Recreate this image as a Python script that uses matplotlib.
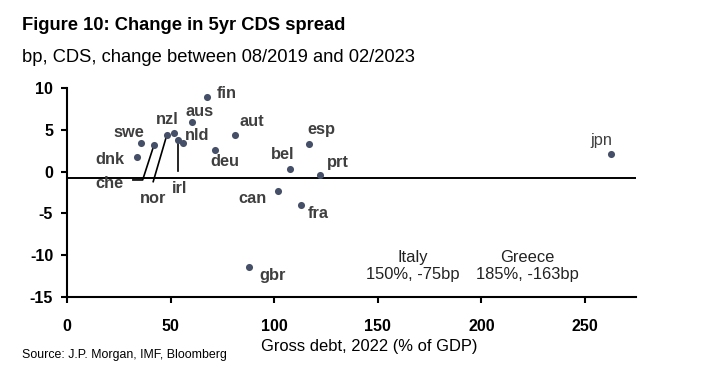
import matplotlib
matplotlib.use("Agg")
import matplotlib.pyplot as plt

plt.rcParams['font.family'] = ['Liberation Sans', 'DejaVu Sans']
plt.rcParams['axes.unicode_minus'] = False

# gross debt 2022 (% of GDP) and 5yr CDS change (bp)
countries = ['fin', 'aus', 'nzl', 'nor', 'irl', 'nld', 'che', 'swe', 'dnk', 'deu',
             'aut', 'esp', 'bel', 'prt', 'can', 'fra', 'gbr', 'jpn']
debt = [67.5, 60.4, 51.7, 48.2, 53.8, 55.9, 42.0, 35.6, 34.0, 71.2,
        81.0, 116.6, 107.7, 121.9, 102.0, 112.9, 88.0, 262.6]
cds_change = [8.9, 5.9, 4.6, 4.4, 3.8, 3.4, 3.2, 3.4, 1.7, 2.6,
              4.4, 3.3, 0.3, -0.4, -2.3, -4.0, -11.4, 2.1]

# label placement (data coords)
label_pos = {
    'fin': (76.9, 9.4), 'aus': (63.9, 7.2), 'nzl': (48.4, 6.2), 'nld': (62.6, 4.3),
    'swe': (29.6, 4.7), 'dnk': (20.8, 1.4), 'che': (20.4, -1.4), 'nor': (41.4, -3.2),
    'irl': (54.2, -2.0), 'deu': (76.3, 1.2), 'aut': (89.1, 6.0), 'esp': (122.9, 5.0),
    'bel': (104.1, 2.0), 'prt': (130.9, 1.1), 'can': (89.6, -3.2), 'fra': (121.1, -5.0),
    'gbr': (99.3, -12.4), 'jpn': (258.1, 3.7),
}
# leader lines for crowded labels
leaders = {
    'che': ([42.0, 36.5, 31.8], [3.2, -1.0, -1.0]),
    'nor': ([48.2, 41.6], [4.4, -1.2]),
    'irl': ([53.8, 53.8], [3.8, 0.1]),
}

outliers = ['Italy\n150%, -75bp', 'Greece\n185%, -163bp']
outlier_pos = [(167, -11.3), (222, -11.3)]

fig = plt.figure(figsize=(7.04, 3.86), dpi=100)
ax = fig.add_axes([0.0952, 0.2306, 0.8078, 0.5414])

marker_color = '#454f68'
label_color = '#3f3f3f'

ax.scatter(debt, cds_change, s=26, color=marker_color, zorder=3, linewidths=0)
ax.axhline(-0.75, color='black', lw=1.4, zorder=2)

for name, (lx, ly) in label_pos.items():
    weight = 'normal' if name == 'jpn' else 'bold'
    ax.text(lx, ly, name, ha='center', va='center', fontsize=11.8,
            fontweight=weight, color=label_color)

for name, (xs, ys) in leaders.items():
    ax.plot(xs, ys, color='black', lw=1.2, zorder=2)

for txt, (ox, oy) in zip(outliers, outlier_pos):
    ax.text(ox, oy, txt, ha='center', va='center', fontsize=11.9,
            color='#222222', linespacing=1.2)

ax.set_xlim(0, 274.5)
ax.set_ylim(-15, 10)
ax.set_xticks([0, 50, 100, 150, 200, 250])
ax.set_yticks([-15, -10, -5, 0, 5, 10])
for s in ['top', 'right']:
    ax.spines[s].set_visible(False)
for s in ['left', 'bottom']:
    ax.spines[s].set_linewidth(1.5)
ax.tick_params(direction='out', length=4, width=1.5, labelsize=11.5)
ax.tick_params(axis='x', pad=12)
ax.tick_params(axis='y', pad=6)
for lab in ax.get_xticklabels() + ax.get_yticklabels():
    lab.set_fontweight('bold')
ax.set_xlabel('Gross debt, 2022 (% of GDP)', fontsize=11.9)
ax.xaxis.set_label_coords(0.531, -0.2)

fig.text(0.031, 0.935, 'Figure 10: Change in 5yr CDS spread', fontsize=13.2,
         fontweight='bold', va='center')
fig.text(0.031, 0.852, 'bp, CDS, change between 08/2019 and 02/2023', fontsize=13.2,
         va='center')
fig.text(0.031, 0.08, 'Source: J.P. Morgan, IMF, Bloomberg', fontsize=8.9, va='center')

fig.savefig('out.png', dpi=100)
